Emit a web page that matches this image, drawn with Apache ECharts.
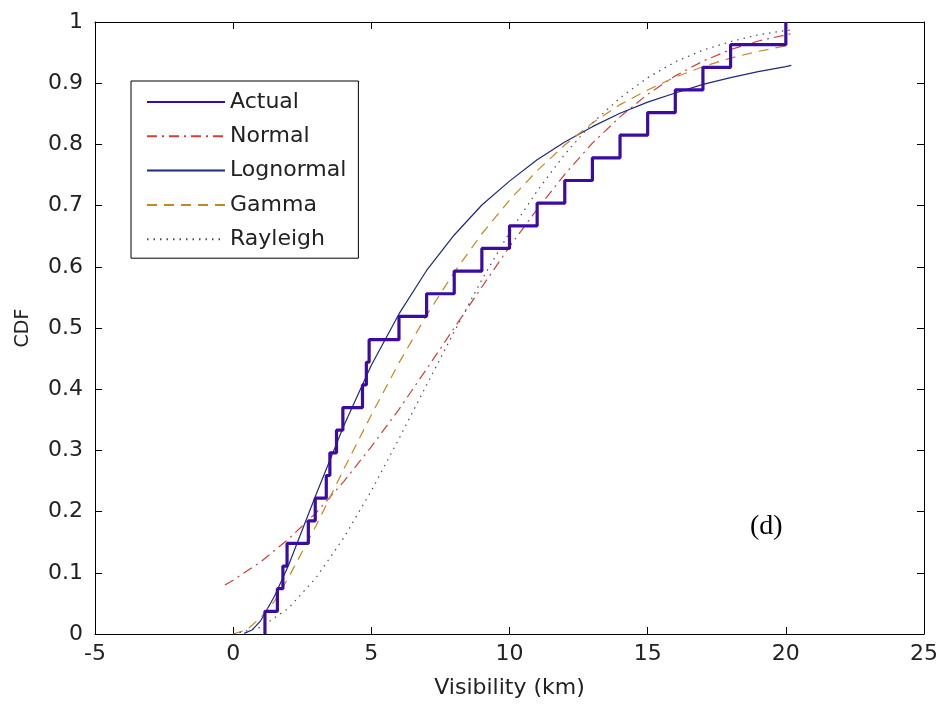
<!DOCTYPE html>
<html>
<head>
<meta charset="utf-8">
<script src="https://cdn.jsdelivr.net/npm/echarts@6/dist/echarts.min.js"></script>
<style>
html,body{margin:0;padding:0;background:#fff;}
#chart{width:941px;height:705px;}
</style>
</head>
<body>
<div id="chart"></div>
<script>
// ---- Data ----
// Empirical CDF (Actual): sorted visibility values and CDF level after each step
const actualX = [1.15, 1.6, 1.8, 1.95, 2.72, 2.97, 3.37, 3.5, 3.74, 3.97, 4.68, 4.82, 4.92, 6, 7, 8, 9, 10, 11, 12, 13, 14, 15, 16, 17, 18, 20];
const actualCDF = [0.037, 0.074, 0.111, 0.148, 0.185, 0.222, 0.259, 0.296, 0.333, 0.370, 0.407, 0.444, 0.481, 0.519, 0.556, 0.593, 0.630, 0.667, 0.704, 0.741, 0.778, 0.815, 0.852, 0.889, 0.926, 0.963, 1.0];

// Fitted curves (read at grid points)
const normalX = [-0.3, 0, 1, 2, 3, 4, 5, 6, 7, 8, 9, 10, 11, 12, 13, 14, 15, 16, 17, 18, 19, 20, 20.2];
const normalY = [0.080, 0.088, 0.118, 0.155, 0.198, 0.249, 0.306, 0.367, 0.433, 0.500, 0.567, 0.633, 0.694, 0.751, 0.802, 0.845, 0.882, 0.912, 0.936, 0.955, 0.969, 0.979, 0.981];

const lognormalX = [0.4, 0.7, 1, 1.5, 2, 2.5, 3, 4, 5, 6, 7, 8, 9, 10, 11, 12, 13, 14, 15, 16, 17, 18, 19, 20, 20.2];
const lognormalY = [0.001, 0.007, 0.022, 0.062, 0.112, 0.170, 0.228, 0.340, 0.439, 0.523, 0.594, 0.652, 0.701, 0.740, 0.775, 0.804, 0.829, 0.851, 0.869, 0.884, 0.898, 0.909, 0.919, 0.927, 0.929];

const gammaX = [0, 0.5, 1, 1.5, 2, 3, 4, 5, 6, 7, 8, 9, 10, 11, 12, 13, 14, 15, 16, 17, 18, 19, 20, 20.2];
const gammaY = [0, 0.007, 0.027, 0.054, 0.092, 0.177, 0.269, 0.358, 0.443, 0.521, 0.591, 0.654, 0.709, 0.757, 0.799, 0.835, 0.865, 0.889, 0.910, 0.927, 0.941, 0.952, 0.961, 0.962];

const rayleighX = [0, 1, 2, 3, 4, 5, 6, 7, 8, 9, 10, 11, 12, 13, 14, 15, 16, 17, 18, 19, 20, 20.2];
const rayleighY = [0, 0.011, 0.042, 0.092, 0.157, 0.234, 0.319, 0.407, 0.494, 0.579, 0.656, 0.724, 0.784, 0.835, 0.876, 0.909, 0.935, 0.954, 0.968, 0.979, 0.986, 0.987];

const xTicks = { min: -5, max: 25, interval: 5 };
const yTicks = { min: 0, max: 1, interval: 0.1 };
const seriesNames = ['Actual', 'Normal', 'Lognormal', 'Gamma', 'Rayleigh'];

// ---- Build ----
function pairs(xs, ys) { return xs.map((x, i) => [x, ys[i]]); }
const actualData = [[actualX[0], 0]].concat(pairs(actualX, actualCDF));

const FONT = 'DejaVu Sans';
const chart = echarts.init(document.getElementById('chart'), null, { renderer: 'canvas' });

const axisCommon = {
  axisLine: { show: true, onZero: false, lineStyle: { color: '#000', width: 1 } },
  axisTick: { show: true, inside: true, length: 7, lineStyle: { color: '#000' } },
  splitLine: { show: false }
};

chart.setOption({
  animation: false,
  backgroundColor: '#fff',
  grid: { left: 95, top: 22, right: 16, bottom: 71, containLabel: false },
  xAxis: [
    Object.assign({}, axisCommon, {
      type: 'value', position: 'bottom', min: xTicks.min, max: xTicks.max, interval: xTicks.interval,
      name: 'Visibility (km)', nameLocation: 'middle', nameGap: 43,
      nameTextStyle: { fontFamily: FONT, fontSize: 22, color: '#222' },
      axisLabel: { margin: 9, fontFamily: FONT, fontSize: 22, color: '#222' }
    }),
    Object.assign({}, axisCommon, {
      type: 'value', position: 'top', min: xTicks.min, max: xTicks.max, interval: xTicks.interval,
      axisLabel: { show: false }
    })
  ],
  yAxis: [
    Object.assign({}, axisCommon, {
      type: 'value', position: 'left', min: yTicks.min, max: yTicks.max, interval: yTicks.interval,
      name: 'CDF', nameLocation: 'middle', nameGap: 62,
      nameTextStyle: { fontFamily: FONT, fontSize: 19, color: '#222' },
      axisLabel: { margin: 12, fontFamily: FONT, fontSize: 22, color: '#222' }
    }),
    Object.assign({}, axisCommon, {
      type: 'value', position: 'right', min: yTicks.min, max: yTicks.max, interval: yTicks.interval,
      axisLabel: { show: false }
    })
  ],
  legend: {
    show: true,
    orient: 'vertical',
    left: 131, top: 81,
    data: seriesNames,
    backgroundColor: '#fff',
    borderColor: '#000', borderWidth: 1, borderRadius: 0,
    padding: [10, 12, 8, 15],
    itemWidth: 78, itemHeight: 14, itemGap: 12.3,
    itemStyle: { opacity: 0 },
    textStyle: { fontFamily: FONT, fontSize: 22, color: '#222' }
  },
  series: [
    {
      name: 'Actual', type: 'line', data: actualData, step: 'end', symbol: 'none',
      lineStyle: { color: '#3a0ca3', width: 3.2 }, itemStyle: { color: '#3a0ca3' }, z: 5
    },
    {
      name: 'Normal', type: 'line', data: pairs(normalX, normalY), symbol: 'none',
      lineStyle: { color: '#d0403a', width: 1.2, type: [10, 5, 2, 5] }, itemStyle: { color: '#d0403a' }
    },
    {
      name: 'Lognormal', type: 'line', data: pairs(lognormalX, lognormalY), symbol: 'none',
      lineStyle: { color: '#1c2a80', width: 1.2 }, itemStyle: { color: '#1c2a80' }
    },
    {
      name: 'Gamma', type: 'line', data: pairs(gammaX, gammaY), symbol: 'none',
      lineStyle: { color: '#c8861c', width: 1.2, type: [10, 7] }, itemStyle: { color: '#c8861c' }
    },
    {
      name: 'Rayleigh', type: 'line', data: pairs(rayleighX, rayleighY), symbol: 'none',
      lineStyle: { color: '#4a4a6a', width: 1.2, type: [1.5, 5] }, itemStyle: { color: '#4a4a6a' }
    }
  ],
  graphic: [
    {
      type: 'text', left: 750, top: 513,
      style: { text: '(d)', font: '28px "Liberation Serif"', fill: '#000' }
    }
  ]
});
</script>
</body>
</html>
